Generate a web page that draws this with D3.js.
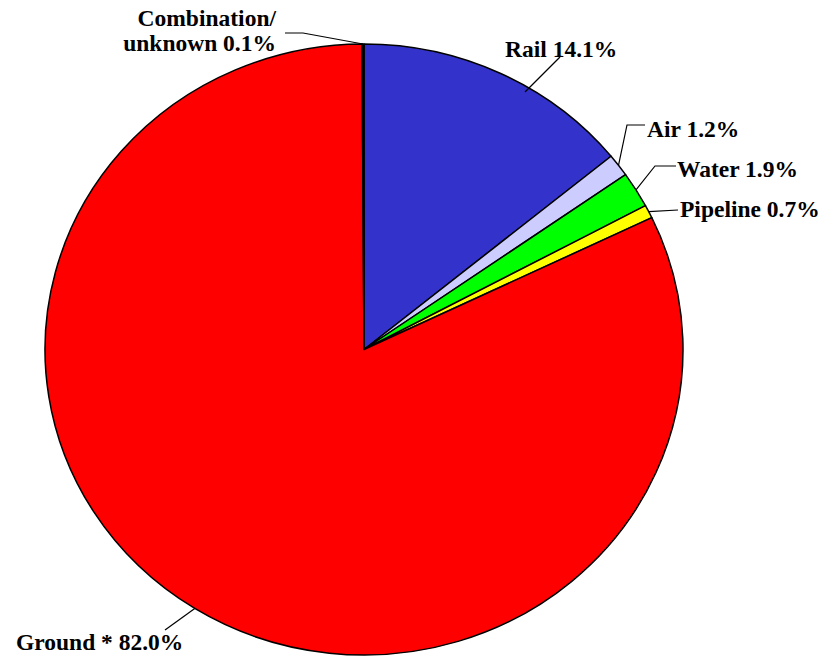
<!DOCTYPE html>
<html>
<head>
<meta charset="utf-8">
<script src="https://cdn.jsdelivr.net/npm/d3@7"></script>
<style>
html,body{margin:0;padding:0;background:#fff;}
svg{display:block;}
text{font-family:"Liberation Serif","Times New Roman","DejaVu Serif",serif;font-weight:bold;font-size:23.5px;fill:#000;}
</style>
</head>
<body>
<svg id="chart" width="831" height="659"></svg>
<script>
// ---- data ----
const categories = ["Rail", "Air", "Water", "Pipeline", "Ground *", "Combination/unknown"];
const values = [14.1, 1.2, 1.9, 0.7, 82.0, 0.1];
const colors = ["#3333CC", "#CCCCFF", "#00FF00", "#FFFF00", "#FF0000", "#000000"];
const labelLines = [
  ["Rail 14.1%"],
  ["Air 1.2%"],
  ["Water 1.9%"],
  ["Pipeline 0.7%"],
  ["Ground * 82.0%"],
  ["Combination/", "unknown 0.1%"]
];

// ---- layout (annotation positions, not data) ----
const cx = 364, cy = 349.5, rx = 319, ry = 305.5;
const labelLayout = [
  {x: 505, y: 57, anchor: "start", leader: [[560, 57], [525, 92]]},
  {x: 647, y: 137, anchor: "start", leader: [[645, 125], [627, 125], "arc"]},
  {x: 677, y: 177, anchor: "start", leader: [[676, 166], [655, 166], "arc"]},
  {x: 680, y: 217, anchor: "start", leader: [[678, 210], "arc"]},
  {x: 16, y: 650, anchor: "start", leader: [[165, 630], "arc"]},
  {x: 276, y: 26, anchor: "end", leader: [[285, 33], [303, 33], "arc"]}
];

const svg = d3.select("#chart");
const g = svg.append("g").attr("transform", `translate(${cx},${cy})`);

const pie = d3.pie().sort(null).value(d => d)(values);
const arc = d3.arc().innerRadius(0).outerRadius(rx);

g.append("g").attr("transform", `scale(1,${ry / rx})`)
  .selectAll("path").data(pie).join("path")
  .attr("d", arc)
  .attr("fill", (d, i) => colors[i])
  .attr("stroke", "#000")
  .attr("stroke-width", 1.5)
  .attr("vector-effect", "non-scaling-stroke")
  .attr("stroke-linejoin", "round");

// leaders
pie.forEach((d, i) => {
  const mid = (d.startAngle + d.endAngle) / 2;
  const pt = [cx + rx * Math.sin(mid), cy - ry * Math.cos(mid)];
  const pts = labelLayout[i].leader.map(p => p === "arc" ? pt : p);
  svg.append("path")
    .attr("d", d3.line()(pts))
    .attr("fill", "none")
    .attr("stroke", "#000")
    .attr("stroke-width", 1.2);
});

// labels
labelLines.forEach((lines, i) => {
  const L = labelLayout[i];
  lines.forEach((s, k) => {
    svg.append("text")
      .attr("x", L.x).attr("y", L.y + k * 25)
      .attr("text-anchor", L.anchor)
      .text(s);
  });
});
</script>
</body>
</html>
